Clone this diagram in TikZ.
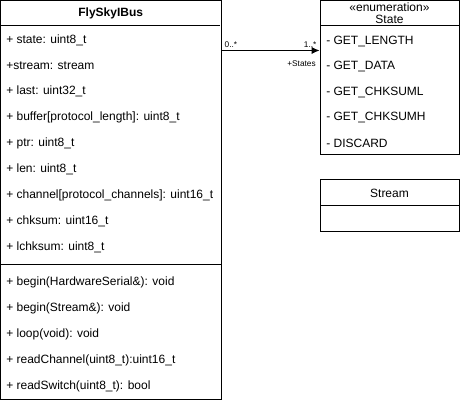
\documentclass[tikz,border=0pt]{standalone}
\usepackage{fontspec}
\setmainfont{Liberation Sans}
\usetikzlibrary{calc,arrows,arrows.meta,positioning}

\tikzset{
  classbox/.style={draw,line width=0.75pt,inner sep=0pt},
  member/.style={anchor=west,inner sep=0pt,font=\fontsize{9}{11}\selectfont},
  title/.style={inner sep=0pt,font=\fontsize{9}{11}\selectfont},
  mult/.style={inner sep=0pt,font=\fontsize{6.2}{7}\selectfont}
}

\begin{document}
\begin{tikzpicture}[x=0.75pt,y=-0.75pt]
        \useasboundingbox (0,0) rectangle (461,402);
        % FlySkyIBus class
        \node[classbox,minimum width=165.4pt,minimum height=298.9pt] (bus) at (110.75,200) {};
        \node[title,font=\fontsize{9}{11}\selectfont\bfseries] (bustitle) at (110.75,13) {FlySkyIBus};
        \draw[line width=0.75pt] (bus.west |- bustitle) ++(0,13) -- ++(220.5,0);
        \foreach \t [count=\i] in {+ state: uint8\_t, +stream: stream, + last: uint32\_t,
            + buffer[protocol\_length]: uint8\_t, + ptr: uint8\_t, + len: uint8\_t,
            + channel[protocol\_channels]: uint16\_t, + chksum: uint16\_t, + lchksum: uint8\_t}
        \node[member] (attr\i) at (6,{14+25.9*\i}) {\t};
        \draw[line width=0.75pt] (0.5,265) -- (221,265);
        \foreach \t [count=\i] in {+ begin(HardwareSerial\&): void, + begin(Stream\&): void,
            + loop(void): void, + readChannel(uint8\_t):uint16\_t, + readSwitch(uint8\_t): bool}
        \node[member] (meth\i) at (6,{256+26*\i}) {\t};
        % State enumeration
        \node[classbox,minimum width=104.25pt,minimum height=115.5pt] (state) at (389.5,78) {};
        \node[title] (stereo) at (389.5,7.5) {«enumeration»};
        \node[title] (statetitle) at (389.5,19.5) {State};
        \draw[line width=0.75pt] (320,26) -- (459,26);
        \foreach \t [count=\i] in {- GET\_LENGTH, - GET\_DATA, - GET\_CHKSUML, - GET\_CHKSUMH, - DISCARD}
        \node[member] (lit\i) at (326,{16+25.5*\i}) {\t};
        % Stream class
        \node[classbox,minimum width=104.25pt,minimum height=39pt] (stream) at (389.5,206) {};
        \node[title] (streamtitle) at (389.5,193) {Stream};
        \draw[line width=0.75pt] (320,206) -- (459,206);
        % association
        \coordinate (assoc) at (0,50.5);
        \draw[-{Latex[length=6pt,width=5.5pt]},line width=0.75pt] (bus.east |- assoc) -- (state.west |- assoc)
            node[pos=0,mult,anchor=south west,xshift=2pt,yshift=2pt] (m0) {0..*}
            node[pos=1,mult,anchor=south east,xshift=-2pt,yshift=2pt] (m1) {1..*}
            node[pos=1,mult,anchor=north east,xshift=-2.5pt,yshift=-7pt] (role) {+States};
\end{tikzpicture}
\end{document}
